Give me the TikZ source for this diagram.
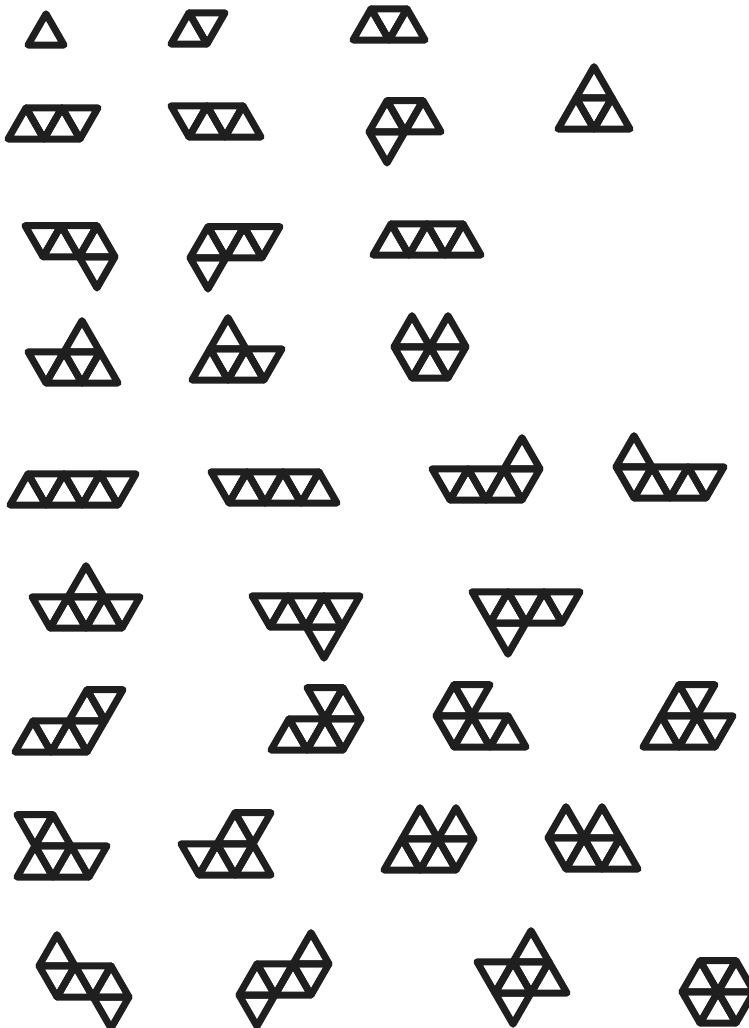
\documentclass[tikz,border=0pt]{standalone}
\usepackage{tikz}
\tikzset{tri/.style={draw=black!88, line width=7pt, line join=round}}
\newcommand\poly[4]{%
 \begin{scope}[shift={(#1pt,-#2pt)}, x={(36pt,0pt)}, y={(18pt,31.18pt)}]
   \foreach \i/\j in {#3} {\draw[tri] (\i,\j) -- ++(1,0) -- ++(-1,1) -- cycle;}
   \foreach \i/\j in {#4} {\draw[tri] (\i+1,\j) -- ++(0,1) -- ++(-1,0) -- cycle;}
 \end{scope}}
\begin{document}
\begin{tikzpicture}
\useasboundingbox (0,0) rectangle (748pt,-1028pt);
\fill[white] (0,0) rectangle (748pt,-1028pt);
% monoiamond
\begin{scope}[shift={(28pt,-45pt)}, x={(36pt,0pt)}, y={(18pt,31.18pt)}]
  \draw[tri] (0,0) -- ++(1,0) -- ++(-1,1) -- cycle;
\end{scope}
% diamond, triamond
\poly{171}{44}{0/0}{0/0}
\poly{353}{40}{0/0,1/0}{0/0}
% tetriamonds
\poly{8}{139}{0/0,1/0}{0/0,1/0}
\poly{153}{137}{1/0,2/0}{0/0,1/0}
\poly{351}{163}{0/1,1/1}{0/0,0/1}
\poly{558}{129}{0/0,1/0,0/1}{0/0}
% pentiamonds
\poly{-11}{288}{1/1,2/1}{0/1,1/1,2/0}
\poly{172}{289}{0/1,1/1}{0/1,1/1,0/0}
\poly{373}{255}{0/0,1/0,2/0}{0/0,1/0}
\poly{10}{383}{1/0,2/0,1/1}{0/0,1/0}
\poly{192}{380}{0/0,1/0,0/1}{0/0,1/0}
\poly{376}{378}{1/0,0/1,1/1}{0/0,1/0}
% hexiamonds
\poly{10}{505}{0/0,1/0,2/0}{0/0,1/0,2/0}
\poly{193}{503}{1/0,2/0,3/0}{0/0,1/0,2/0}
\poly{414}{500}{1/0,2/0,2/1}{0/0,1/0,2/0}
\poly{598}{498}{1/0,2/0,0/1}{0/0,1/0,2/0}
\poly{14}{628}{1/0,2/0,1/1}{0/0,1/0,2/0}
\poly{234}{627}{1/0,2/0}{0/0,1/0,2/0,2/-1}
\poly{454}{623}{1/0,2/0}{0/0,1/0,2/0,1/-1}
\poly{15}{752}{0/0,1/0,1/1}{0/0,1/0,1/1}
\poly{271}{750}{0/0,1/0,1/1}{0/0,1/0,0/1}
\poly{418}{747}{1/0,2/0,0/1}{0/0,1/0,0/1}
\poly{643}{747}{0/0,1/0,0/1}{0/0,1/0,0/1}
\poly{17}{877}{0/0,1/0,0/1}{0/0,1/0,-1/1}
\poly{163}{875}{1/0,2/0,1/1}{0/0,1/0,1/1}
\poly{384}{870}{0/0,1/0,0/1,1/1}{0/0,1/0}
\poly{530}{869}{1/0,2/0,0/1,1/1}{0/0,1/0}
\poly{21}{997}{0/1,1/0,2/0}{0/0,1/0,2/-1}
\poly{239}{995}{0/0,1/0,1/1}{0/0,1/0,0/-1}
\poly{459}{993}{1/0,2/0,1/1}{0/0,1/0,1/-1}
\poly{664}{1023}{1/0,0/1,1/1}{0/0,1/0,0/1}
\end{tikzpicture}
\end{document}
